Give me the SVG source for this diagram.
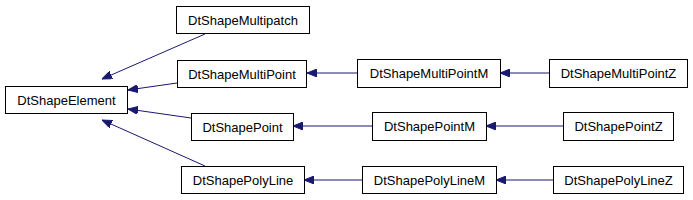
<svg xmlns="http://www.w3.org/2000/svg" width="693" height="200" viewBox="0 0 693 200">
<style>
.n rect{fill:#fff;stroke:#000;stroke-width:1}
.n text{font-family:"Liberation Sans",Arial,sans-serif;font-size:13px;text-anchor:middle;fill:#000}
.e line{stroke:#191970;stroke-width:1;fill:none}
</style>
<defs>
<marker id="ah" viewBox="0 0 10 8" refX="10" refY="4" markerWidth="10" markerHeight="8" markerUnits="userSpaceOnUse" orient="auto">
<path d="M0,0L10,4L0,8z" fill="#191970" stroke="#191970"/>
</marker>
</defs>
<rect width="693" height="200" fill="#fff"/>
<g id="edges" class="e">
<line x1="205" y1="34" x2="102" y2="79" marker-end="url(#ah)"/>
<line x1="177" y1="83" x2="128" y2="90" marker-end="url(#ah)"/>
<line x1="191" y1="118" x2="128" y2="109" marker-end="url(#ah)"/>
<line x1="205" y1="166" x2="102" y2="120" marker-end="url(#ah)"/>
<line x1="357" y1="73" x2="307" y2="73" marker-end="url(#ah)"/>
<line x1="549" y1="73" x2="500" y2="73" marker-end="url(#ah)"/>
<line x1="372" y1="126" x2="293" y2="126" marker-end="url(#ah)"/>
<line x1="563" y1="126" x2="486" y2="126" marker-end="url(#ah)"/>
<line x1="362" y1="180" x2="304" y2="180" marker-end="url(#ah)"/>
<line x1="553" y1="180" x2="496" y2="180" marker-end="url(#ah)"/>
</g>
<g id="DtShapeElement" class="n"><rect x="5.5" y="86.5" width="122" height="27"/><text x="66.5" y="104.5">DtShapeElement</text></g>
<g id="DtShapeMultipatch" class="n"><rect x="176.5" y="6.5" width="133" height="27"/><text x="243" y="24.5">DtShapeMultipatch</text></g>
<g id="DtShapeMultiPoint" class="n"><rect x="177.5" y="60.5" width="129" height="27"/><text x="242" y="78.5">DtShapeMultiPoint</text></g>
<g id="DtShapePoint" class="n"><rect x="191.5" y="113.5" width="102" height="27"/><text x="242.5" y="131.5">DtShapePoint</text></g>
<g id="DtShapePolyLine" class="n"><rect x="181.5" y="166.5" width="123" height="27"/><text x="243" y="184.5">DtShapePolyLine</text></g>
<g id="DtShapeMultiPointM" class="n"><rect x="357.5" y="59.5" width="143" height="28"/><text x="429" y="77.5">DtShapeMultiPointM</text></g>
<g id="DtShapeMultiPointZ" class="n"><rect x="549.5" y="59.5" width="138" height="28"/><text x="618.5" y="77.5">DtShapeMultiPointZ</text></g>
<g id="DtShapePointM" class="n"><rect x="372.5" y="112.5" width="114" height="28"/><text x="429.5" y="130.5">DtShapePointM</text></g>
<g id="DtShapePointZ" class="n"><rect x="563.5" y="112.5" width="110" height="28"/><text x="618.5" y="130.5">DtShapePointZ</text></g>
<g id="DtShapePolyLineM" class="n"><rect x="362.5" y="166.5" width="134" height="27"/><text x="429.5" y="184.5">DtShapePolyLineM</text></g>
<g id="DtShapePolyLineZ" class="n"><rect x="553.5" y="166.5" width="130" height="27"/><text x="618.5" y="184.5">DtShapePolyLineZ</text></g>
</svg>
